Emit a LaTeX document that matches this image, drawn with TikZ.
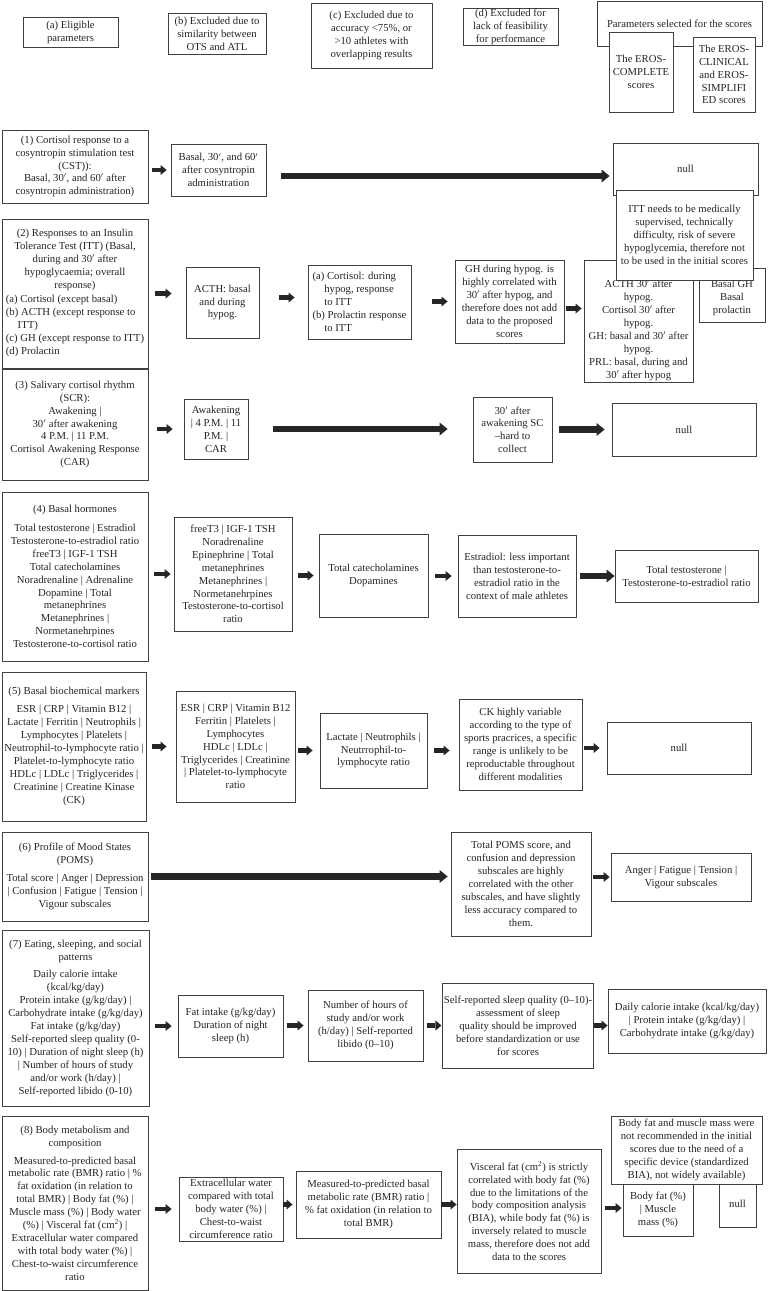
\documentclass[tikz,border=0pt]{standalone}
\usepackage{fontspec}
\setmainfont{Liberation Serif}
\usepackage{tikz}
\usetikzlibrary{arrows.meta, calc}

\begin{document}
\begin{tikzpicture}[
  x=1pt, y=-1pt,
  box/.style={draw=black!75, line width=0.8pt, fill=white, align=center, inner sep=1pt, text=black!85, font=\fontsize{10.7}{12.9}\selectfont},
  blk/.style={line width=4.5pt, black!85, -{Triangle[length=6pt, width=10pt, line width=0pt]}},
  bigblk/.style={line width=6.5pt, black!85, -{Triangle[length=8pt, width=13pt, line width=0pt]}}
]
\useasboundingbox (0,0) rectangle (769,1291);

% Header
\node[box, minimum width=95pt, minimum height=30pt] (ela) at (70.5, 32) {(a) Eligible\\parameters};
\node[box, minimum width=98pt, minimum height=41pt] (exb) at (217, 33.5) {(b) Excluded due to\\similarity between\\OTS and ATL};
\node[box, minimum width=121pt, minimum height=65pt] (exc) at (371.5, 35.5) {(c) Excluded due to\\accuracy <75\%, or\\>10 athletes with\\overlapping results};
\node[box, minimum width=95pt, minimum height=36pt] (exd) at (510.5, 27) {(d) Excluded for\\lack of feasibility\\for performance};
\node[box, minimum width=165pt, minimum height=45pt] (sel) at (679.5, 23.5) {Parameters selected for the scores};
\node[box, minimum width=64pt, minimum height=80pt] (erc) at (641, 72) {The EROS-\\COMPLETE\\scores};
\node[box, minimum width=62pt, minimum height=75pt] (ers) at (724, 74.5) {The EROS-\\CLINICAL\\and EROS-\\SIMPLIFI\\ED scores};

% --- (1) CST ---
\node[box, minimum width=146pt, minimum height=73pt] (p1) at (75, 166.5) {(1) Cortisol response to a\\cosyntropin stimulation test\\(CST)):\\Basal, 30$'$, and 60$'$ after\\cosyntropin administration)};
\node[box, minimum width=95pt, minimum height=52pt] (r1a) at (218.5, 170) {Basal, 30$'$, and 60$'$\\after cosyntropin\\administration};
\node[box, minimum width=145pt, minimum height=52pt] (r1n) at (685.5, 169) {null};

% --- (2) ITT ---
\node[box, minimum width=146pt, minimum height=149pt] (p2) at (75, 293.5) {(2) Responses to an Insulin\\Tolerance Test (ITT) (Basal,\\during and 30$'$ after\\hypoglycaemia; overall\\response)\\[2pt]\begin{tabular}{@{}l@{}}(a) Cortisol (except basal)\\(b) ACTH (except response to\\\hspace{1.1em}ITT)\\(c) GH (except response to ITT)\\(d) Prolactin\end{tabular}};
\node[box, minimum width=73pt, minimum height=71pt] (r2a) at (222.5, 302.5) {ACTH: basal\\and during\\hypog.};
\node[box, align=left, minimum width=103pt, minimum height=74pt] (r2b) at (359.5, 302) {(a) Cortisol: during\\\hspace{1.1em}hypog, response\\\hspace{1.1em}to ITT\\(b) Prolactin response\\\hspace{1.1em}to ITT};
\node[box, minimum width=109pt, minimum height=83pt] (r2c) at (509.5, 301.5) {GH during hypog. is\\highly correlated with\\30$'$ after hypog, and\\therefore does not add\\data to the proposed\\scores};
\node[box, minimum width=109pt, minimum height=122pt] (r2d) at (638.5, 321) {\rule{0pt}{26pt}ACTH 30$'$ after\\hypog.\\Cortisol 30$'$ after\\hypog.\\GH: basal and 30$'$ after\\hypog.\\PRL: basal, during and\\30$'$ after hypog};
\node[box, minimum width=66pt, minimum height=54pt] (r2e) at (732, 295) {\rule{0pt}{14pt}Basal GH\\Basal\\prolactin};
\node[box, minimum width=137pt, minimum height=90pt] (r2n) at (684.5, 235) {ITT needs to be medically\\supervised, technically\\difficulty, risk of severe\\hypoglycemia, therefore not\\to be used in the initial scores};

% --- (3) SCR ---
\node[box, minimum width=146pt, minimum height=111pt] (p3) at (75, 424.5) {(3) Salivary cortisol rhythm\\(SCR):\\Awakening |\\30$'$ after awakening\\4 P.M. | 11 P.M.\\Cortisol Awakening Response\\(CAR)};
\node[box, minimum width=64pt, minimum height=60pt] (r3a) at (216, 429) {Awakening\\| 4 P.M. | 11\\P.M. |\\CAR};
\node[box, minimum width=79pt, minimum height=65pt] (r3b) at (512.5, 429.5) {30$'$ after\\awakening SC\\--hard to\\collect};
\node[box, minimum width=144pt, minimum height=53pt] (r3n) at (684, 429.5) {null};

% --- (4) Basal hormones ---
\node[box, minimum width=146pt, minimum height=169pt] (p4) at (75, 576.5) {(4) Basal hormones\\[6pt]Total testosterone | Estradiol\\Testosterone-to-estradiol ratio\\freeT3 | IGF-1 TSH\\Total catecholamines\\Noradrenaline | Adrenaline\\Dopamine | Total\\metanephrines\\Metanephrines |\\Normetanehrpines\\Testosterone-to-cortisol ratio};
\node[box, minimum width=118pt, minimum height=114pt] (r4a) at (233, 574) {freeT3 | IGF-1 TSH\\Noradrenaline\\Epinephrine | Total\\metanephrines\\Metanephrines |\\Normetanehrpines\\Testosterone-to-cortisol\\ratio};
\node[box, minimum width=109pt, minimum height=83pt] (r4b) at (373.5, 575.5) {Total catecholamines\\Dopamines};
\node[box, minimum width=118pt, minimum height=82pt] (r4c) at (517, 576) {Estradiol: less important\\than testosterone-to-\\estradiol ratio in the\\context of male athletes};
\node[box, minimum width=143pt, minimum height=52pt] (r4d) at (686.5, 576) {Total testosterone |\\Testosterone-to-estradiol ratio};

% --- (5) Biochemical markers ---
\node[box, minimum width=144pt, minimum height=149pt] (p5) at (74, 746.5) {(5) Basal biochemical markers\\[5pt]ESR | CRP | Vitamin B12 |\\Lactate | Ferritin | Neutrophils |\\Lymphocytes | Platelets |\\Neutrophil-to-lymphocyte ratio |\\Platelet-to-lymphocyte ratio\\HDLc | LDLc | Triglycerides |\\Creatinine | Creatine Kinase\\(CK)};
\node[box, minimum width=119pt, minimum height=111pt] (r5a) at (235.5, 746.5) {ESR | CRP | Vitamin B12\\Ferritin | Platelets |\\Lymphocytes\\HDLc | LDLc |\\Triglycerides | Creatinine\\| Platelet-to-lymphocyte\\ratio};
\node[box, minimum width=107pt, minimum height=75pt] (r5b) at (373.5, 750.5) {Lactate | Neutrophils |\\Neutrrophil-to-\\lymphocyte ratio};
\node[box, minimum width=123pt, minimum height=91pt] (r5c) at (520.5, 744.5) {CK highly variable\\according to the type of\\sports pracrices, a specific\\range is unlikely to be\\reproductable throughout\\different modalities};
\node[box, minimum width=144pt, minimum height=52pt] (r5n) at (679, 748) {null};

% --- (6) POMS ---
\node[box, minimum width=146pt, minimum height=89pt] (p6) at (75, 876.5) {(6) Profile of Mood States\\(POMS)\\[5pt]Total score | Anger | Depression\\| Confusion | Fatigue | Tension |\\Vigour subscales};
\node[box, minimum width=140pt, minimum height=104pt] (r6a) at (521, 884) {Total POMS score, and\\confusion and depression\\subscales are highly\\correlated with the other\\subscales, and have slightly\\less accuracy compared to\\them.};
\node[box, minimum width=140pt, minimum height=48pt] (r6b) at (681, 877) {Anger | Fatigue | Tension |\\Vigour subscales};

% --- (7) Eating, sleeping, social ---
\node[box, minimum width=147pt, minimum height=176pt] (p7) at (75.5, 1018) {(7) Eating, sleeping, and social\\patterns\\[5pt]Daily calorie intake\\(kcal/kg/day)\\Protein intake (g/kg/day) |\\Carbohydrate intake (g/kg/day)\\Fat intake (g/kg/day)\\Self-reported sleep quality (0-\\10) | Duration of night sleep (h)\\| Number of hours of study\\and/or work (h/day) |\\Self-reported libido (0-10)};
\node[box, minimum width=105pt, minimum height=62pt] (r7a) at (230.5, 1026) {Fat intake (g/kg/day)\\Duration of night\\sleep (h)};
\node[box, minimum width=115pt, minimum height=71pt] (r7b) at (365.5, 1025.5) {Number of hours of\\study and/or work\\(h/day) | Self-reported\\libido (0--10)};
\node[box, minimum width=148pt, minimum height=85pt] (r7c) at (518, 1025.5) {Self-reported sleep quality (0--10)-\\assessment of sleep\\quality should be improved\\before standardization or use\\for scores};
\node[box, minimum width=158pt, minimum height=64pt] (r7d) at (687, 1021) {Daily calorie intake (kcal/kg/day)\\| Protein intake (g/kg/day) |\\Carbohydrate intake (g/kg/day)};

% --- (8) Body metabolism ---
\node[box, minimum width=146pt, minimum height=174pt] (p8) at (75, 1203) {(8) Body metabolism and\\composition\\[5pt]Measured-to-predicted basal\\metabolic rate (BMR) ratio | \%\\fat oxidation (in relation to\\total BMR) | Body fat (\%) |\\Muscle mass (\%) | Body water\\(\%) | Visceral fat (cm\textsuperscript{2}) |\\Extracellular water compared\\with total body water (\%) |\\Chest-to-waist circumference\\ratio};
\node[box, minimum width=104pt, minimum height=64pt] (r8a) at (231, 1209) {Extracellular water\\compared with total\\body water (\%) |\\Chest-to-waist\\circumference ratio};
\node[box, minimum width=145pt, minimum height=67pt] (r8b) at (368.5, 1204.5) {Measured-to-predicted basal\\metabolic rate (BMR) ratio |\\\% fat oxidation (in relation to\\total BMR)};
\node[box, minimum width=144pt, minimum height=124pt] (r8c) at (529, 1211) {Visceral fat (cm\textsuperscript{2}) is strictly\\correlated with body fat (\%)\\due to the limitations of the\\body composition analysis\\(BIA), while body fat (\%) is\\inversely related to muscle\\mass, therefore does not add\\data to the scores};
\node[box, minimum width=70pt, minimum height=56pt] (r8d) at (658, 1208) {\rule{0pt}{12pt}Body fat (\%)\\| Muscle\\mass (\%)};
\node[box, minimum width=37pt, minimum height=47pt] (r8e) at (737.5, 1203.5) {null};
\node[box, minimum width=151pt, minimum height=68pt] (r8n) at (686.5, 1150) {Body fat and muscle mass were\\not recommended in the initial\\scores due to the need of a\\specific device (standardized\\BIA), not widely available)};

% --- Arrows ---
\draw[blk, shorten <=4pt, shorten >=4pt] (p1.east |- r1a) -- (r1a);
\draw[bigblk, shorten <=15pt, shorten >=3pt] ([yshift=-6pt]r1a.east) -- ([yshift=-6pt]r1a.east -| r1n.west);

\draw[blk, shorten <=7pt, shorten >=14pt] (p2.east) -- (p2.east -| r2a.west);
\draw[blk, shorten <=20pt, shorten >=13pt] ([yshift=5pt]r2a.east) -- ([yshift=5pt]r2a.east -| r2b.west);
\draw[blk, shorten <=21pt, shorten >=7pt] (r2b.east |- r2c) -- (r2c);
\draw[blk, shorten <=2pt, shorten >=2pt] ([yshift=-7pt]r2c.east) -- ([yshift=-7pt]r2c.east -| r2d.west);

\draw[blk, shorten <=9pt, shorten >=11pt] (p3.east |- r3a) -- (r3a);
\draw[bigblk, shorten <=25pt, shorten >=25pt] (r3a.east) -- (r3a.east -| r3b.west);
\draw[bigblk, shorten <=7pt, shorten >=7pt] (r3b.east) -- (r3b.east -| r3n.west);

\draw[blk, shorten <=6pt, shorten >=3pt] (p4.east |- r4a) -- (r4a);
\draw[blk, shorten <=6pt, shorten >=5pt] (r4a.east |- r4b) -- (r4b);
\draw[blk, shorten <=7pt, shorten >=6pt] (r4b.east |- r4c) -- (r4c);
\draw[bigblk, shorten <=4pt] (r4c.east) -- (r4c.east -| r4d.west);

\draw[blk, shorten <=6pt, shorten >=9pt] (p5.east |- r5a) -- (r5a);
\draw[blk, shorten <=3pt, shorten >=7pt] (r5a.east |- r5b) -- (r5b);
\draw[blk, shorten <=7pt, shorten >=9pt] (r5b.east) -- (r5b.east -| r5c.west);
\draw[blk, shorten <=2pt, shorten >=7pt] (r5c.east |- r5n) -- (r5n);

\draw[bigblk, shorten <=3pt, shorten >=3pt] (p6.east) -- (p6.east -| r6a.west);
\draw[blk, shorten <=2pt, shorten >=1pt] (r6a.east |- r6b) -- (r6b);

\draw[blk, shorten <=6pt, shorten >=6pt] (p7.east |- r7a) -- (r7a);
\draw[blk, shorten <=4pt, shorten >=4pt] (r7a.east |- r7b) -- (r7b);
\draw[blk, shorten <=4pt, shorten >=1pt] (r7b.east |- r7c) -- (r7c);
\draw[blk] (r7c.east) -- (r7c.east -| r7d.west);

\draw[blk, shorten <=7pt, shorten >=7pt] (p8.east |- r8a) -- (r8a);
\draw[blk, shorten >=3pt] (r8a.east |- r8b) -- (r8b);
\draw[blk, line width=5.5pt] (r8b.east) -- (r8b.east -| r8c.west);
\draw[blk, shorten <=4pt, shorten >=1pt] (r8c.east |- r8d) -- (r8d);

\end{tikzpicture}
\end{document}
